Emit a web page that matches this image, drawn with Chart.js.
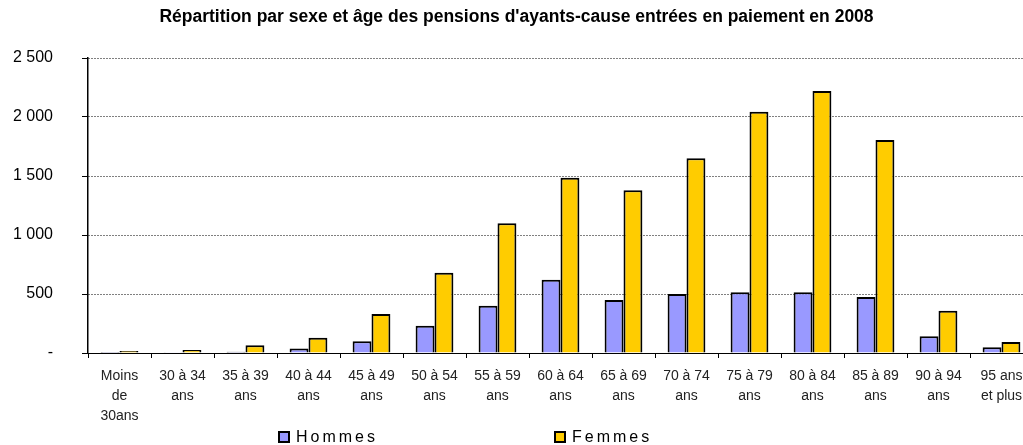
<!DOCTYPE html>
<html lang="fr">
<head>
<meta charset="utf-8">
<title>Pensions d'ayants-cause 2008</title>
<script src="https://cdn.jsdelivr.net/npm/chart.js@4/dist/chart.umd.min.js"></script>
<style>
    html, body { margin: 0; padding: 0; background: #fff; overflow: hidden; }
    #wrap { position: relative; width: 1040px; height: 445px; }
    #legend { position: absolute; top: 428px; left: 0; font: 16px Arial, "Liberation Sans", sans-serif; letter-spacing: 3px; color: #000; }
    #legend .item { position: absolute; white-space: nowrap; display: flex; align-items: center; }
    #legend .box { width: 12px; height: 12px; box-sizing: border-box; border: 2px solid #000; margin-right: 6px; }
</style>
</head>
<body>
<div id="wrap">
    <canvas id="pensionChart" width="1040" height="445"></canvas>
    <div id="legend"></div>
</div>
<script>
// Age groups (multi-line labels, as in the original)
const categories = [
    ['Moins', 'de', '30ans'],
    ['30 à 34', 'ans'],
    ['35 à 39', 'ans'],
    ['40 à 44', 'ans'],
    ['45 à 49', 'ans'],
    ['50 à 54', 'ans'],
    ['55 à 59', 'ans'],
    ['60 à 64', 'ans'],
    ['65 à 69', 'ans'],
    ['70 à 74', 'ans'],
    ['75 à 79', 'ans'],
    ['80 à 84', 'ans'],
    ['85 à 89', 'ans'],
    ['90 à 94', 'ans'],
    ['95 ans', 'et plus']
];

// Values
const hommes = [1, 2, 10, 38, 100, 230, 400, 620, 450, 500, 515, 515, 475, 142, 48];
const femmes = [16, 25, 65, 130, 330, 680, 1100, 1485, 1380, 1650, 2045, 2220, 1805, 358, 93];

const seriesNames = ['Hommes', 'Femmes'];
const seriesColors = ['#9999FF', '#FFCC00'];

const yTicks = [0, 500, 1000, 1500, 2000, 2500];

const chartTitle = "Répartition par sexe et âge des pensions d'ayants-cause entrées en paiement en 2008";

const FONT = 'Arial, "Liberation Sans", sans-serif';

// "2 500" style, zero shown as a dash
function formatTick(value) {
    if (value === 0) return '-';
    return String(value).replace(/\B(?=(\d{3})+(?!\d))/g, ' ');
}

const ctx = document.getElementById('pensionChart').getContext('2d');
const chart = new Chart(ctx, {
    type: 'bar',
    data: {
        labels: categories,
        datasets: [hommes, femmes].map((values, i) => ({
            label: seriesNames[i],
            data: values,
            backgroundColor: seriesColors[i],
            borderColor: '#000',
            borderWidth: 2,
            categoryPercentage: 0.6,
            barPercentage: 1.0
        }))
    },
    options: {
        responsive: false,
        animation: false,
        layout: {
            padding: { left: 0, right: 7, top: 0, bottom: 0 }
        },
        scales: {
            x: {
                grid: {
                    display: true,
                    drawOnChartArea: false,
                    drawTicks: true,
                    tickLength: 5,
                    tickColor: '#000',
                    offset: true
                },
                border: { display: true, color: '#000', width: 1 },
                ticks: {
                    color: '#222',
                    font: { family: FONT, size: 14, lineHeight: 1.42 },
                    padding: 8,
                    maxRotation: 0,
                    autoSkip: false
                },
                afterFit: function(scale) {
                    scale.height = 92;
                }
            },
            y: {
                min: 0,
                max: 2500,
                afterBuildTicks: function(scale) {
                    scale.ticks = yTicks.map(v => ({ value: v }));
                },
                grid: {
                    color: '#000',
                    lineWidth: 1,
                    tickBorderDash: [],
                    tickColor: '#000',
                    tickLength: 6,
                    drawTicks: true
                },
                // in v4 border.dash sets the dash of the grid lines
                border: { display: true, color: '#000', width: 1.5, dash: [1, 2] },
                ticks: {
                    color: '#000',
                    font: { family: FONT, size: 16 },
                    padding: 29,
                    callback: formatTick
                },
                afterFit: function(scale) {
                    scale.width = 88;
                }
            }
        },
        plugins: {
            legend: { display: false },
            tooltip: { enabled: false },
            title: {
                display: true,
                text: chartTitle,
                color: '#000',
                font: { family: FONT, size: 17.5, weight: 'bold', lineHeight: 1.2 },
                padding: { top: 7, bottom: 30 }
            }
        }
    }
});

// Legend built from the datasets, placed under the axis labels
const legendEl = document.getElementById('legend');
const legendX = [278, 554];
chart.data.datasets.forEach((ds, i) => {
    const item = document.createElement('div');
    item.className = 'item';
    item.style.left = legendX[i] + 'px';
    const box = document.createElement('span');
    box.className = 'box';
    box.style.background = ds.backgroundColor;
    const text = document.createElement('span');
    text.textContent = ds.label;
    item.appendChild(box);
    item.appendChild(text);
    legendEl.appendChild(item);
});
</script>
</body>
</html>
